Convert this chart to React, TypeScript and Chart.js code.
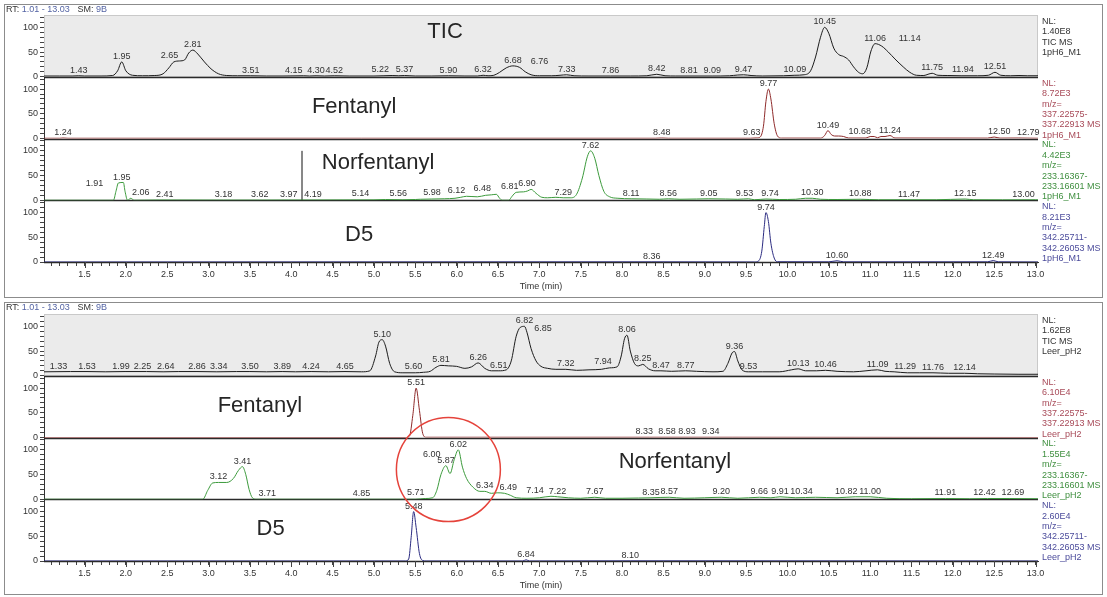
import React, { useEffect, useRef } from 'react';
import { Chart, registerables } from 'chart.js';

Chart.register(...registerables);

type Pt = [number, number];

const X_MIN = 1.01;
const X_MAX = 13.03;
const Y_MAX = 125;
const FONT = '"Liberation Sans", Arial, sans-serif';

// ---------------- Panel 1 : 1pH6_M1 ----------------
const p1Tic: Pt[] = [
  [1.01, 1.5], [1.2, 1.5], [1.35, 1.5], [1.43, 2], [1.5, 1.5], [1.7, 1.5], [1.84, 2.5], [1.9, 12], [1.95, 30], [2.0, 12],
  [2.08, 3], [2.2, 2], [2.35, 2.5], [2.45, 6], [2.52, 18], [2.58, 30], [2.65, 32], [2.71, 34], [2.76, 48], [2.81, 54],
  [2.87, 46], [2.95, 30], [3.03, 16], [3.12, 6], [3.22, 2.5], [3.35, 2], [3.51, 2], [3.7, 1.5], [3.9, 1.5], [4.15, 2],
  [4.22, 1.5], [4.3, 2], [4.4, 1.5], [4.52, 2], [4.7, 1.5], [5.0, 1.5], [5.22, 2.5], [5.3, 2], [5.37, 2.5], [5.5, 1.5],
  [5.7, 1.5], [5.9, 2], [6.1, 1.5], [6.25, 1.5], [6.32, 3], [6.38, 2], [6.45, 3], [6.52, 9], [6.6, 18], [6.68, 22],
  [6.76, 19], [6.83, 10], [6.9, 4], [7.0, 2], [7.15, 2], [7.25, 3], [7.33, 4], [7.42, 2], [7.6, 1.5], [7.86, 1.5],
  [8.1, 1.5], [8.3, 2], [8.42, 5], [8.52, 2], [8.65, 1.5], [8.81, 1.5], [9.09, 1.5], [9.3, 2], [9.4, 3.5], [9.47, 4],
  [9.56, 2.5], [9.7, 1.5], [9.95, 2], [10.09, 3], [10.2, 4], [10.28, 12], [10.34, 40], [10.4, 80], [10.45, 100], [10.5, 88],
  [10.56, 58], [10.62, 45], [10.68, 41], [10.74, 34], [10.8, 20], [10.86, 9], [10.91, 6], [10.96, 18], [11.01, 52], [11.06, 67],
  [11.14, 62], [11.22, 50], [11.3, 36], [11.4, 20], [11.48, 9], [11.56, 3], [11.65, 2.5], [11.7, 5], [11.75, 7], [11.82, 3],
  [11.94, 2.5], [12.1, 2], [12.3, 2], [12.43, 3], [12.51, 9], [12.58, 3], [12.7, 2], [12.8, 2.5], [12.9, 2], [13.03, 2],
];
const p1Fent: Pt[] = [
  [1.01, 0.5], [1.2, 0.5], [1.24, 1], [1.3, 0.5], [8.4, 0.5], [8.48, 1], [8.56, 0.5], [9.55, 0.5], [9.63, 1.2], [9.67, 3],
  [9.71, 25], [9.74, 75], [9.77, 100], [9.8, 80], [9.84, 30], [9.88, 5], [9.93, 0.8], [10.4, 0.8], [10.45, 6], [10.49, 16],
  [10.53, 8], [10.57, 5], [10.62, 5], [10.68, 4], [10.74, 1], [10.95, 1], [11.0, 4], [11.05, 4], [11.09, 1.5], [11.13, 4],
  [11.18, 4], [11.24, 6], [11.3, 1], [12.42, 0.8], [12.5, 3], [12.57, 0.8], [12.79, 1], [13.03, 0.5],
];
const p1Norf: Pt[] = [
  [1.01, 0], [1.85, 0], [1.88, 18], [1.91, 35], [1.97, 36], [1.99, 18], [2.02, 0], [2.06, 4], [2.1, 0], [2.41, 0.5],
  [3.18, 0.3], [3.62, 0.3], [3.97, 0.5], [4.19, 0.5], [5.0, 0.8], [5.14, 1.5], [5.35, 1], [5.5, 1.5], [5.56, 2], [5.7, 2.5],
  [5.85, 3], [5.98, 4], [6.05, 6], [6.12, 8], [6.25, 7], [6.35, 10], [6.42, 11], [6.48, 12], [6.52, 4], [6.55, 0],
  [6.63, 0], [6.67, 8], [6.72, 16], [6.81, 17], [6.86, 19], [6.9, 22], [6.96, 14], [7.03, 6], [7.1, 5], [7.2, 6],
  [7.29, 5], [7.38, 5], [7.45, 12], [7.52, 45], [7.58, 88], [7.62, 100], [7.67, 85], [7.72, 50], [7.78, 18], [7.85, 7],
  [7.95, 4], [8.11, 3], [8.3, 2.5], [8.45, 2], [8.56, 3], [8.7, 2], [8.9, 2.5], [9.05, 3], [9.25, 2.5], [9.4, 2],
  [9.53, 3], [9.6, 1], [9.74, 2.5], [9.9, 1.5], [10.1, 2], [10.22, 4], [10.3, 4], [10.4, 2], [10.6, 1.5], [10.88, 2],
  [11.1, 1], [11.47, 1], [11.8, 1], [12.15, 2.5], [12.25, 1], [12.6, 0.8], [13.0, 1], [13.03, 0.8],
];
const p1NorfCursor: Pt[] = [[4.13, 0], [4.13, 100]];
const p1D5: Pt[] = [
  [1.01, 0], [8.36, 0.3], [9.6, 0], [9.65, 2], [9.69, 22], [9.72, 72], [9.74, 100], [9.77, 82], [9.8, 38], [9.84, 8],
  [9.88, 0.5], [10.5, 0.3], [10.6, 2.5], [10.68, 0.3], [12.42, 0.3], [12.49, 3], [12.55, 0.3], [13.03, 0],
];

const p1TicPeaks = [1.43, 1.95, 2.65, 2.81, 3.51, 4.15, 4.3, 4.52, 5.22, 5.37, 5.9, 6.32, 6.68, 6.76, 7.33, 7.86, 8.42, 8.81, 9.09, 9.47, 10.09, 10.45, 11.06, 11.14, 11.75, 11.94, 12.51];
const p1FentPeaks = [1.24, 8.48, 9.63, 9.77, 10.49, 10.68, 11.24, 12.5, 12.79];
const p1NorfPeaks = [1.91, 1.95, 2.06, 2.41, 3.18, 3.62, 3.97, 4.19, 5.14, 5.56, 5.98, 6.12, 6.48, 6.81, 6.9, 7.29, 7.62, 8.11, 8.56, 9.05, 9.53, 9.74, 10.3, 10.88, 11.47, 12.15, 13.0];
const p1D5Peaks = [8.36, 9.74, 10.6, 12.49];

const p1TicInfo = ['NL:', '1.40E8', 'TIC MS', '1pH6_M1'];
const p1FentInfo = ['NL:', '8.72E3', 'm/z=', '337.22575-', '337.22913 MS', '1pH6_M1'];
const p1NorfInfo = ['NL:', '4.42E3', 'm/z=', '233.16367-', '233.16601 MS', '1pH6_M1'];
const p1D5Info = ['NL:', '8.21E3', 'm/z=', '342.25711-', '342.26053 MS', '1pH6_M1'];

// ---------------- Panel 2 : Leer_pH2 ----------------
const p2Tic: Pt[] = [
  [1.01, 8], [1.33, 8.5], [1.53, 8.5], [1.75, 8], [1.99, 8.5], [2.25, 8.5], [2.45, 8], [2.64, 8.5], [2.86, 8.5], [3.1, 8],
  [3.34, 8.5], [3.5, 8.5], [3.7, 8], [3.89, 8.5], [4.05, 8], [4.24, 8.5], [4.45, 8], [4.65, 8.5], [4.85, 8], [4.95, 10],
  [5.02, 40], [5.06, 68], [5.1, 73], [5.14, 60], [5.19, 25], [5.25, 8], [5.35, 6], [5.5, 6], [5.6, 7], [5.68, 9],
  [5.75, 17], [5.81, 21], [5.9, 20], [6.0, 19], [6.1, 15], [6.18, 18], [6.26, 26], [6.34, 15], [6.42, 10], [6.51, 10],
  [6.6, 12], [6.66, 30], [6.72, 80], [6.77, 98], [6.82, 100], [6.85, 88], [6.9, 55], [6.96, 30], [7.02, 19], [7.1, 15],
  [7.2, 13], [7.32, 13], [7.45, 11], [7.6, 12], [7.75, 13], [7.85, 16], [7.94, 18], [7.99, 40], [8.03, 75], [8.06, 82],
  [8.1, 50], [8.15, 25], [8.2, 20], [8.25, 23], [8.32, 14], [8.4, 10], [8.47, 10], [8.6, 9], [8.77, 10], [8.9, 9],
  [9.1, 8], [9.22, 9], [9.28, 25], [9.33, 46], [9.36, 49], [9.4, 30], [9.45, 12], [9.53, 8], [9.7, 8], [9.9, 8],
  [10.05, 12], [10.13, 14], [10.22, 10], [10.35, 10], [10.46, 11], [10.6, 9], [10.8, 8], [10.95, 10], [11.09, 12], [11.18, 9],
  [11.29, 8], [11.45, 6], [11.6, 6], [11.76, 6], [11.95, 5], [12.14, 5], [12.3, 4], [12.5, 3.5], [12.8, 3], [13.03, 3],
];
const p2Fent: Pt[] = [
  [1.01, 0], [5.38, 0], [5.43, 3], [5.47, 45], [5.51, 100], [5.55, 55], [5.59, 8], [5.63, 0.5], [8.33, 0.5], [8.58, 0.5],
  [8.93, 0.5], [9.34, 0.5], [13.03, 0],
];
const p2Norf: Pt[] = [
  [1.01, 0], [2.93, 0], [2.99, 18], [3.05, 33], [3.12, 34], [3.22, 34], [3.3, 42], [3.36, 58], [3.41, 66], [3.45, 50],
  [3.49, 20], [3.53, 3], [3.58, 0], [3.71, 0], [4.85, 0], [5.5, 0], [5.62, 1.5], [5.71, 3], [5.76, 18], [5.81, 50],
  [5.87, 68], [5.92, 52], [5.97, 80], [6.02, 100], [6.07, 65], [6.12, 42], [6.2, 24], [6.28, 16], [6.34, 16], [6.42, 12],
  [6.49, 13], [6.58, 12], [6.65, 8], [6.72, 3], [6.85, 2], [7.0, 3], [7.14, 6], [7.22, 5], [7.35, 3], [7.5, 2],
  [7.67, 4], [7.8, 2], [8.0, 2], [8.2, 2.5], [8.35, 3], [8.57, 4], [8.75, 2], [9.0, 3], [9.2, 4], [9.4, 2],
  [9.66, 4], [9.8, 3], [9.91, 5], [10.1, 3], [10.34, 4], [10.6, 3], [10.82, 5], [11.0, 5], [11.2, 2], [11.5, 1],
  [11.91, 1.5], [12.2, 1], [12.42, 1.5], [12.69, 1.5], [13.03, 1],
];
const p2D5: Pt[] = [
  [1.01, 0], [5.38, 0], [5.42, 4], [5.45, 48], [5.48, 100], [5.51, 68], [5.55, 15], [5.59, 1], [5.63, 0], [6.8, 0],
  [6.84, 2.5], [6.88, 0], [8.1, 0.3], [13.03, 0],
];

const p2TicPeaks = [1.33, 1.53, 1.99, 2.25, 2.64, 2.86, 3.34, 3.5, 3.89, 4.24, 4.65, 5.1, 5.6, 5.81, 6.26, 6.51, 6.82, 6.85, 7.32, 7.94, 8.06, 8.25, 8.47, 8.77, 9.36, 9.53, 10.13, 10.46, 11.09, 11.29, 11.76, 12.14];
const p2FentPeaks = [5.51, 8.33, 8.58, 8.93, 9.34];
const p2NorfPeaks = [3.12, 3.41, 3.71, 4.85, 5.71, 5.87, 6.0, 6.02, 6.34, 6.49, 7.14, 7.22, 7.67, 8.35, 8.57, 9.2, 9.66, 9.91, 10.34, 10.82, 11.0, 11.91, 12.42, 12.69];
const p2D5Peaks = [5.48, 6.84, 8.1];

const p2TicInfo = ['NL:', '1.62E8', 'TIC MS', 'Leer_pH2'];
const p2FentInfo = ['NL:', '6.10E4', 'm/z=', '337.22575-', '337.22913 MS', 'Leer_pH2'];
const p2NorfInfo = ['NL:', '1.55E4', 'm/z=', '233.16367-', '233.16601 MS', 'Leer_pH2'];
const p2D5Info = ['NL:', '2.60E4', 'm/z=', '342.25711-', '342.26053 MS', 'Leer_pH2'];

// label nudges (pixels) for crowded peak labels
const labelNudges: Record<string, [number, number]> = {
  'p1.tic.2.65': [-10, 0], 'p1.tic.4.15': [-10, 0], 'p1.tic.5.22': [-12, 0], 'p1.tic.6.76': [20, 0],
  'p1.tic.11.14': [28, -2], 'p1.tic.11.94': [15, 0],
  'p1.fent.9.63': [-5, 0], 'p1.fent.10.68': [16, 0], 'p1.fent.12.50': [5, 0], 'p1.fent.12.79': [10, 0],
  'p1.norf.1.91': [-24, 6], 'p1.norf.2.06': [10, 0], 'p1.norf.2.41': [5, 0], 'p1.norf.4.19': [6, 0],
  'p1.norf.5.14': [-25, 0], 'p1.norf.5.56': [-22, 0], 'p1.norf.5.98': [-23, 0], 'p1.norf.6.12': [-10, 0],
  'p1.norf.6.48': [-14, 0], 'p1.norf.6.81': [-14, 0], 'p1.norf.6.90': [-4, 0], 'p1.norf.9.53': [-4, 0],
  'p1.norf.9.74': [4, 0], 'p1.norf.13.00': [-12, 0],
  'p2.tic.1.33': [-12, 0], 'p2.tic.1.99': [-4, 0], 'p2.tic.2.25': [-4, 0], 'p2.tic.2.64': [-13, 0],
  'p2.tic.3.34': [-18, 0], 'p2.tic.5.60': [-10, 0], 'p2.tic.6.85': [16, 2], 'p2.tic.7.94': [-14, 0],
  'p2.tic.11.29': [11, 0],
  'p2.fent.8.33': [-5, 0], 'p2.fent.8.58': [-3, 0], 'p2.fent.8.93': [-12, 0], 'p2.fent.9.34': [-22, 0],
  'p2.norf.5.71': [-17, 0], 'p2.norf.6.00': [-25, 6], 'p2.norf.6.49': [11, 0], 'p2.norf.7.14': [-16, 0],
  'p2.norf.10.34': [-14, 0], 'p2.norf.10.82': [-9, 0], 'p2.norf.12.42': [-3, 0], 'p2.norf.12.69': [3, 0],
};

type Trace = {
  id: string;
  color: string;
  textColor: string;
  data: Pt[];
  peaks: number[];
  info: string[];
  title?: { text: string; t: number; v: number };
};

type PanelDef = {
  key: string;
  top: number;
  height: number;
  padTop: number;
  padBottom: number;
  traces: Trace[]; // top to bottom
  cursor?: Pt[];
  circle?: { t: number; v: number; r: number };
};

const panels: PanelDef[] = [
  {
    key: 'p1', top: 4, height: 294, padTop: 10, padBottom: 13,
    traces: [
      { id: 'tic', color: '#1c1c1c', textColor: '#333333', data: p1Tic, peaks: p1TicPeaks, info: p1TicInfo, title: { text: 'TIC', t: 5.86, v: 90 } },
      { id: 'fent', color: '#8e2a2a', textColor: '#a84a58', data: p1Fent, peaks: p1FentPeaks, info: p1FentInfo, title: { text: 'Fentanyl', t: 4.76, v: 64 } },
      { id: 'norf', color: '#3c9a3c', textColor: '#3f8f3f', data: p1Norf, peaks: p1NorfPeaks, info: p1NorfInfo, title: { text: 'Norfentanyl', t: 5.05, v: 75 } },
      { id: 'd5', color: '#2b2b80', textColor: '#4b4b9b', data: p1D5, peaks: p1D5Peaks, info: p1D5Info, title: { text: 'D5', t: 4.82, v: 55 } },
    ],
    cursor: p1NorfCursor,
  },
  {
    key: 'p2', top: 302, height: 293, padTop: 11, padBottom: 11,
    traces: [
      { id: 'tic', color: '#1c1c1c', textColor: '#333333', data: p2Tic, peaks: p2TicPeaks, info: p2TicInfo },
      { id: 'fent', color: '#8e2a2a', textColor: '#a84a58', data: p2Fent, peaks: p2FentPeaks, info: p2FentInfo, title: { text: 'Fentanyl', t: 3.62, v: 64 } },
      { id: 'norf', color: '#3c9a3c', textColor: '#3f8f3f', data: p2Norf, peaks: p2NorfPeaks, info: p2NorfInfo, title: { text: 'Norfentanyl', t: 8.64, v: 75 } },
      { id: 'd5', color: '#2b2b80', textColor: '#4b4b9b', data: p2D5, peaks: p2D5Peaks, info: p2D5Info, title: { text: 'D5', t: 3.75, v: 65 } },
    ],
    circle: { t: 5.9, v: 60, r: 52 },
  },
];

function valueAt(data: Pt[], t: number): number {
  for (let i = 1; i < data.length; i++) {
    const [t0, v0] = data[i - 1];
    const [t1, v1] = data[i];
    if (t <= t1) {
      if (t1 === t0) return Math.max(v0, v1);
      return v0 + ((v1 - v0) * (t - t0)) / (t1 - t0);
    }
  }
  return data[data.length - 1][1];
}

function makePlugin(panel: PanelDef) {
  return {
    id: 'chromAnnot',
    beforeDatasetsDraw(chart: any) {
      const { ctx, chartArea: ca } = chart;
      ctx.save();
      const tic = chart.scales['tic'];
      const yTop = tic.getPixelForValue(Y_MAX);
      const y0 = tic.getPixelForValue(0);
      ctx.fillStyle = '#ebebeb';
      ctx.fillRect(ca.left, yTop, ca.right - ca.left, y0 - yTop);
      ctx.strokeStyle = '#c9c9c9';
      ctx.lineWidth = 1;
      ctx.strokeRect(ca.left + 0.5, yTop + 0.5, ca.right - ca.left - 1, y0 - yTop - 0.5);
      panel.traces.forEach((tr) => {
        const s = chart.scales[tr.id];
        const yb = Math.round(s.getPixelForValue(0)) + 0.5;
        ctx.strokeStyle = '#2a2a2a';
        ctx.lineWidth = 1.4;
        ctx.beginPath();
        ctx.moveTo(ca.left, yb);
        ctx.lineTo(ca.right, yb);
        ctx.stroke();
      });
      // longer major ticks on the time axis (every 0.5 min)
      const xs = chart.scales.x;
      ctx.strokeStyle = '#444';
      ctx.lineWidth = 1;
      xs.ticks.forEach((tk: any) => {
        const r = Math.round(tk.value * 10);
        if (r % 5 !== 0) return;
        const px = Math.round(xs.getPixelForValue(tk.value)) + 0.5;
        ctx.beginPath();
        ctx.moveTo(px, ca.bottom);
        ctx.lineTo(px, ca.bottom + 6);
        ctx.stroke();
      });
      ctx.restore();
    },
    afterDatasetsDraw(chart: any) {
      const { ctx, chartArea: ca } = chart;
      const xs = chart.scales.x;
      ctx.save();
      // peak labels
      ctx.font = `9px ${FONT}`;
      ctx.textAlign = 'center';
      ctx.textBaseline = 'bottom';
      ctx.fillStyle = '#333';
      panel.traces.forEach((tr) => {
        const s = chart.scales[tr.id];
        tr.peaks.forEach((rt) => {
          const txt = rt.toFixed(2);
          const n = labelNudges[`${panel.key}.${tr.id}.${txt}`] || [0, 0];
          const px = xs.getPixelForValue(rt) + n[0];
          const py = s.getPixelForValue(valueAt(tr.data, rt)) - 1 + n[1];
          ctx.fillText(txt, px, py);
        });
      });
      // strip titles
      ctx.font = `22px ${FONT}`;
      ctx.textBaseline = 'middle';
      ctx.fillStyle = '#262626';
      panel.traces.forEach((tr) => {
        if (!tr.title) return;
        const s = chart.scales[tr.id];
        ctx.fillText(tr.title.text, xs.getPixelForValue(tr.title.t), s.getPixelForValue(tr.title.v));
      });
      // right-hand info blocks
      ctx.font = `9px ${FONT}`;
      ctx.textAlign = 'left';
      ctx.textBaseline = 'middle';
      panel.traces.forEach((tr) => {
        const s = chart.scales[tr.id];
        const top = s.getPixelForValue(Y_MAX);
        ctx.fillStyle = tr.textColor;
        tr.info.forEach((line, i) => {
          ctx.fillText(line, ca.right + 4, top + 6.5 + i * 10.4);
        });
      });
      // header
      let hx = 1;
      const hy = 5;
      const parts: [string, string][] = [['RT:', '#333'], [' 1.01 - 13.03', '#5464a4'], ['   SM:', '#333'], [' 9B', '#5464a4']];
      parts.forEach(([t, c]) => {
        ctx.fillStyle = c;
        ctx.fillText(t, hx, hy);
        hx += ctx.measureText(t).width;
      });
      // axis title
      ctx.fillStyle = '#333';
      ctx.textAlign = 'center';
      ctx.fillText('Time (min)', (ca.left + ca.right) / 2, ca.bottom + 25);
      // circle annotation
      if (panel.circle) {
        const s = chart.scales['norf'];
        ctx.strokeStyle = '#e5433b';
        ctx.lineWidth = 1.5;
        ctx.beginPath();
        ctx.arc(xs.getPixelForValue(panel.circle.t), s.getPixelForValue(panel.circle.v), panel.circle.r, 0, Math.PI * 2);
        ctx.stroke();
      }
      ctx.restore();
    },
  };
}

function yScale() {
  return {
    type: 'linear',
    position: 'left',
    stack: 'strips',
    stackWeight: 1,
    min: 0,
    max: Y_MAX,
    ticks: {
      stepSize: 10,
      includeBounds: false,
      autoSkip: false,
      padding: 2,
      color: '#333',
      font: { family: FONT, size: 9 },
      callback: (v: any) => (Number(v) % 50 === 0 ? String(v) : ''),
    },
    grid: { drawOnChartArea: false, drawTicks: true, tickLength: 4, color: '#444' },
    border: { display: true, color: '#333', width: 1 },
    afterFit: (s: any) => {
      s.width = 30;
    },
  };
}

function Panel({ def }: { def: PanelDef }) {
  const ref = useRef<HTMLCanvasElement>(null);
  useEffect(() => {
    const datasets: any[] = def.traces.map((tr) => ({
      label: tr.id,
      data: tr.data.map(([x, y]) => ({ x, y })),
      yAxisID: tr.id,
      borderColor: tr.color,
      borderWidth: 1,
      pointRadius: 0,
      fill: false,
      cubicInterpolationMode: 'monotone',
    }));
    if (def.cursor) {
      datasets.push({
        label: 'cursor',
        data: def.cursor.map(([x, y]) => ({ x, y })),
        yAxisID: 'norf',
        borderColor: '#111',
        borderWidth: 1,
        pointRadius: 0,
        fill: false,
        tension: 0,
      });
    }
    // scales defined bottom strip first so the last one is stacked on top
    const scales: any = {
      x: {
        type: 'linear',
        position: 'bottom',
        min: X_MIN,
        max: X_MAX,
        ticks: {
          stepSize: 0.1,
          includeBounds: false,
          autoSkip: false,
          maxRotation: 0,
          minRotation: 0,
          padding: 3,
          color: '#333',
          font: { family: FONT, size: 9 },
          callback: (v: any) => {
            const r = Math.round(Number(v) * 10);
            return r % 5 === 0 ? (r / 10).toFixed(1) : '';
          },
        },
        grid: { drawOnChartArea: false, drawTicks: true, tickLength: 4, color: '#444' },
        border: { display: true, color: '#333', width: 1 },
        afterFit: (s: any) => {
          s.height = 22;
        },
      },
    };
    [...def.traces].reverse().forEach((tr) => {
      scales[tr.id] = yScale();
    });
    const chart = new Chart(ref.current as HTMLCanvasElement, {
      type: 'line',
      data: { datasets },
      options: {
        animation: false,
        responsive: false,
        maintainAspectRatio: false,
        layout: { padding: { left: 9, right: 64, top: def.padTop, bottom: def.padBottom } },
        plugins: { legend: { display: false }, tooltip: { enabled: false } },
        events: [],
        scales,
      } as any,
      plugins: [makePlugin(def) as any],
    });
    return () => chart.destroy();
  }, [def]);
  return (
    <div
      style={{
        position: 'absolute',
        left: 4,
        top: def.top,
        width: 1099,
        height: def.height,
        border: '1px solid #8c8c8c',
        boxSizing: 'border-box',
        background: '#fff',
      }}
    >
      <canvas ref={ref} width={1097} height={def.height - 2} style={{ display: 'block' }} />
    </div>
  );
}

export default function App() {
  return (
    <div style={{ position: 'absolute', left: 0, top: 0, width: 1107, height: 597, background: '#fff' }}>
      {panels.map((p) => (
        <Panel key={p.key} def={p} />
      ))}
    </div>
  );
}
